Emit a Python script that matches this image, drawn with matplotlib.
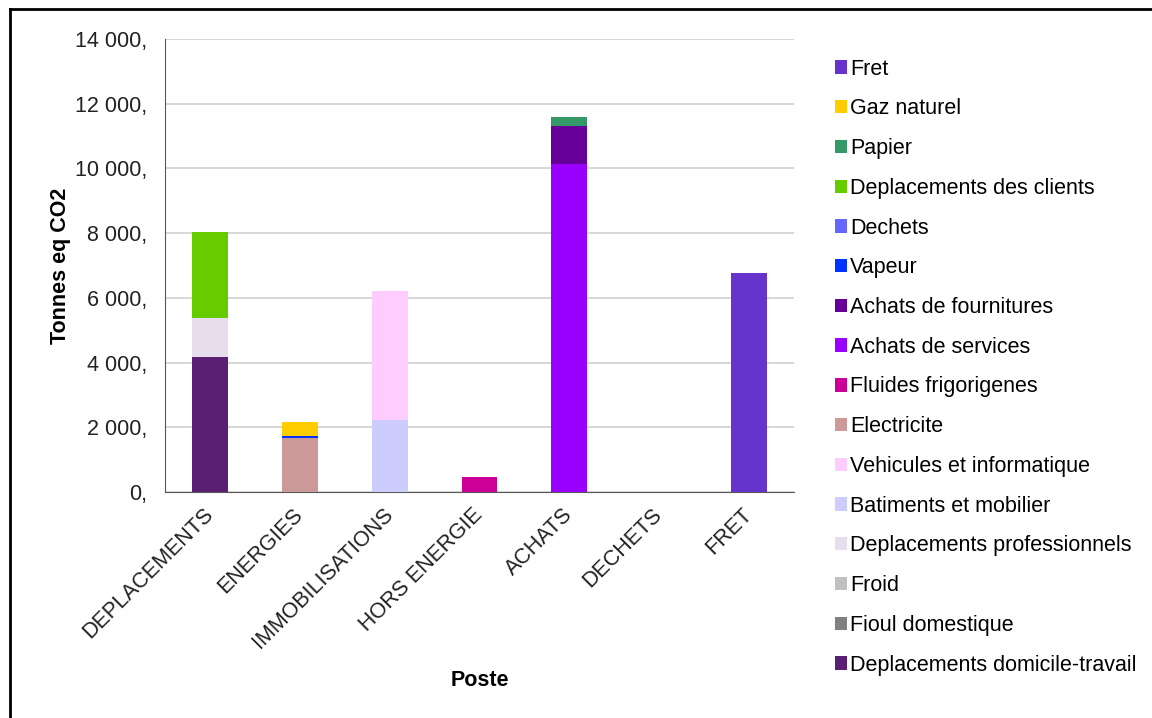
import numpy as np
import matplotlib
matplotlib.use('Agg')
from matplotlib import pyplot as plt
from matplotlib.lines import Line2D
from matplotlib.ticker import FuncFormatter

plt.rcParams['font.family'] = ['Liberation Sans', 'DejaVu Sans']

# Postes (x axis)
postes = ['DEPLACEMENTS', 'ENERGIES', 'IMMOBILISATIONS', 'HORS ENERGIE',
          'ACHATS', 'DECHETS', 'FRET']

# Emission sources, in stacking order (bottom first), tonnes eq CO2 per poste
domicile_travail = [4180, 0, 0, 0, 0, 0, 0]
fioul_domestique = [0, 0, 0, 0, 0, 0, 0]
froid = [0, 0, 0, 0, 0, 0, 0]
depl_pro = [1210, 0, 0, 0, 0, 0, 0]
batiments = [0, 0, 2220, 0, 0, 0, 0]
vehicules = [0, 0, 3990, 0, 0, 0, 0]
electricite = [0, 1660, 0, 0, 0, 0, 0]
fluides = [0, 0, 0, 470, 0, 0, 0]
achats_services = [0, 0, 0, 0, 10140, 0, 0]
achats_fournitures = [0, 0, 0, 0, 1180, 0, 0]
vapeur = [0, 80, 0, 0, 0, 0, 0]
dechets = [0, 0, 0, 0, 0, 0, 0]
depl_clients = [2640, 0, 0, 0, 0, 0, 0]
papier = [0, 0, 0, 0, 260, 0, 0]
gaz_naturel = [0, 430, 0, 0, 0, 0, 0]
fret = [0, 0, 0, 0, 0, 0, 6780]

series = [
    ('Deplacements domicile-travail', domicile_travail, '#5A1E72'),
    ('Fioul domestique', fioul_domestique, '#808080'),
    ('Froid', froid, '#C0C0C0'),
    ('Deplacements professionnels', depl_pro, '#E6DEEC'),
    ('Batiments et mobilier', batiments, '#CCCCFF'),
    ('Vehicules et informatique', vehicules, '#FFCCFF'),
    ('Electricite', electricite, '#CC9999'),
    ('Fluides frigorigenes', fluides, '#CC0099'),
    ('Achats de services', achats_services, '#9900FF'),
    ('Achats de fournitures', achats_fournitures, '#660099'),
    ('Vapeur', vapeur, '#0033FF'),
    ('Dechets', dechets, '#6666FF'),
    ('Deplacements des clients', depl_clients, '#66CC00'),
    ('Papier', papier, '#339966'),
    ('Gaz naturel', gaz_naturel, '#FFCC00'),
    ('Fret', fret, '#6633CC'),
]

fs = 15.5

fig = plt.figure(figsize=(11.52, 7.18), dpi=100)
ax = fig.add_axes([165 / 1152, 1 - 492 / 718, (794 - 165) / 1152, (492 - 39) / 718])

x = np.arange(len(postes))
bottom = np.zeros(len(postes))
handles = []
for name, vals, color in series:
    vals = np.array(vals, dtype=float)
    b = ax.bar(x, vals, 0.4, bottom=bottom, color=color, label=name, zorder=3)
    handles.append(b)
    bottom += vals

ax.set_xlim(-0.5, len(postes) - 0.5)
ax.set_ylim(0, 14000)
ax.set_yticks(np.arange(0, 14001, 2000))
ax.yaxis.set_major_formatter(FuncFormatter(lambda v, p: f'{v:,.0f}'.replace(',', ' ') + ','))
ax.grid(axis='y', color='#D4D4D4', linewidth=1.3, zorder=0)

for s in ['top', 'right']:
    ax.spines[s].set_visible(False)
ax.spines['left'].set_color('#595959')
ax.spines['bottom'].set_color('#595959')
ax.tick_params(axis='both', length=0, labelsize=fs, colors='#222222')
ax.tick_params(axis='y', pad=13)
ax.tick_params(axis='x', pad=14)

ax.set_xticks(x)
ax.set_xticklabels(postes, rotation=45, ha='right', va='center', rotation_mode='anchor')

ax.set_ylabel('Tonnes eq CO2', fontsize=fs, fontweight='bold', labelpad=3)
ax.set_xlabel('Poste', fontsize=fs, fontweight='bold')
ax.xaxis.set_label_coords(0.5, -(670 - 492) / 453)

leg = fig.legend(handles=handles[::-1], loc='upper left',
                 bbox_to_anchor=(826 / 1152, 1 - 50 / 718), frameon=False,
                 fontsize=fs, handlelength=0.58, handleheight=0.58,
                 handletextpad=0.15, labelspacing=0.87, borderaxespad=0)

# outer frame
fig.add_artist(Line2D([10 / 1152, 10 / 1152], [0, 1 - 9 / 718], color='black', linewidth=2))
fig.add_artist(Line2D([10 / 1152, 1], [1 - 9 / 718, 1 - 9 / 718], color='black', linewidth=2))

fig.savefig('out.png', dpi=100)
